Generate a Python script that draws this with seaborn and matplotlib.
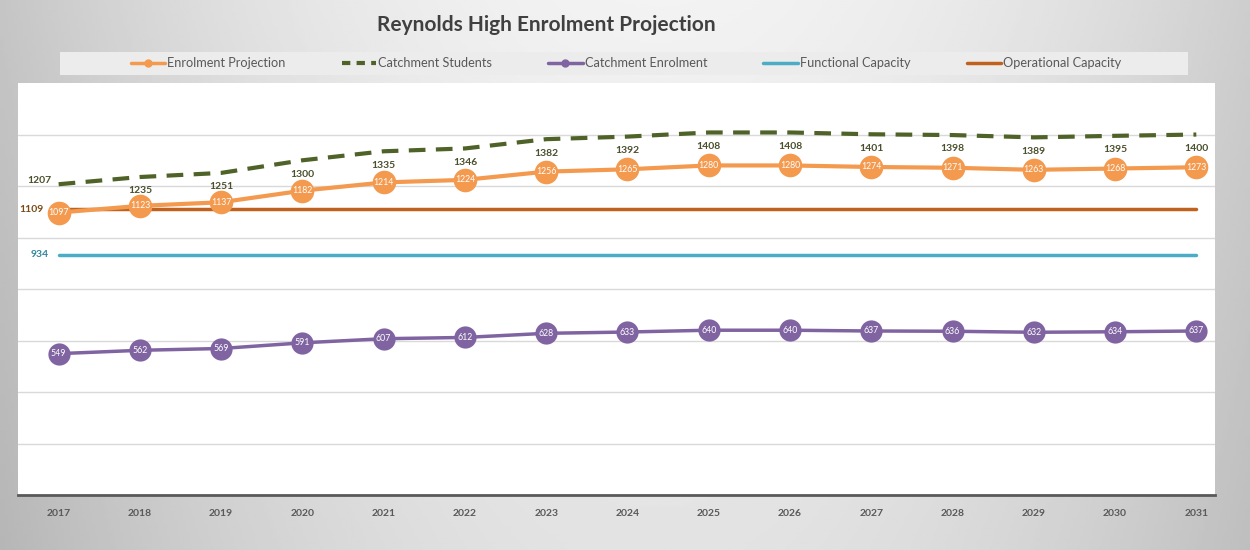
import numpy as np
import pandas as pd
import matplotlib
matplotlib.use("Agg")
import matplotlib.pyplot as plt
from matplotlib.lines import Line2D
from matplotlib.patches import Rectangle
import seaborn as sns

years = [2017, 2018, 2019, 2020, 2021, 2022, 2023, 2024, 2025, 2026, 2027, 2028, 2029, 2030, 2031]
enrolment_projection = [1097, 1123, 1137, 1182, 1214, 1224, 1256, 1265, 1280, 1280, 1274, 1271, 1263, 1268, 1273]
catchment_students = [1207, 1235, 1251, 1300, 1335, 1346, 1382, 1392, 1408, 1408, 1401, 1398, 1389, 1395, 1400]
catchment_enrolment = [549, 562, 569, 591, 607, 612, 628, 633, 640, 640, 637, 636, 632, 634, 637]
functional_capacity = [934] * len(years)
operational_capacity = [1109] * len(years)

df = pd.DataFrame({
    "year": years,
    "Enrolment Projection": enrolment_projection,
    "Catchment Students": catchment_students,
    "Catchment Enrolment": catchment_enrolment,
    "Functional Capacity": functional_capacity,
    "Operational Capacity": operational_capacity,
})

sns.set_theme(style="white")
plt.rcParams["font.family"] = ["Lato", "DejaVu Sans"]

c_orange = "#f39a4f"
c_olive = "#4f6228"
c_purple = "#8064a2"
c_teal = "#4bacc6"
c_brown = "#c0621e"

fig = plt.figure(figsize=(12.5, 5.5), dpi=100)

# gradient background
bg = fig.add_axes([0, 0, 1, 1], zorder=-10)
gx = np.linspace(-1, 1, 400)
gy = np.linspace(0, 1, 200)
X, Y = np.meshgrid(gx, gy)
G = 0.95 - 0.16 * (X - 0.05) ** 2 - 0.06 * Y
bg.imshow(G, cmap="gray", vmin=0, vmax=1, aspect="auto", extent=[0, 1, 0, 1])
bg.axis("off")

# legend strip
fig.patches.append(Rectangle((0.048, 0.8636), 0.9024, 0.0418, transform=fig.transFigure,
                             facecolor="#ececec", edgecolor="none", zorder=-5))

ax = fig.add_axes([0.0144, 0.1, 0.9576, 0.749])
ax.set_facecolor("white")

sns.lineplot(data=df, x="year", y="Operational Capacity", ax=ax, color=c_brown, lw=2.5, zorder=2)
sns.lineplot(data=df, x="year", y="Functional Capacity", ax=ax, color=c_teal, lw=2.5, zorder=2)
sns.lineplot(data=df, x="year", y="Catchment Students", ax=ax, color=c_olive, lw=3, zorder=2,
             dashes=False, linestyle=(0, (4, 2.5)))
sns.lineplot(data=df, x="year", y="Enrolment Projection", ax=ax, color=c_orange, lw=3,
             marker="o", markersize=17, markeredgewidth=0, zorder=3)
sns.lineplot(data=df, x="year", y="Catchment Enrolment", ax=ax, color=c_purple, lw=2.5,
             marker="o", markersize=16, markeredgewidth=0, zorder=3)

for x, v in zip(years, enrolment_projection):
    ax.text(x, v, str(v), ha="center", va="center", color="white", fontsize=6.3, zorder=4)
for x, v in zip(years, catchment_enrolment):
    ax.text(x, v, str(v), ha="center", va="center", color="white", fontsize=6.3, zorder=4)
for i, (x, v) in enumerate(zip(years, catchment_students)):
    if i == 0:
        ax.annotate(str(v), (x, v), xytext=(-5, 3), textcoords="offset points",
                    ha="right", va="center", fontsize=7.5, fontweight="bold", color="#4a4f2c")
    else:
        ax.annotate(str(v), (x, v), xytext=(0, -10), textcoords="offset points",
                    ha="center", va="center", fontsize=7.5, fontweight="bold", color="#4a4f2c")
ax.annotate(str(operational_capacity[0]), (years[0], operational_capacity[0]), xytext=(-11, 0),
            textcoords="offset points", ha="right", va="center", fontsize=7.5,
            fontweight="bold", color="#7a4a16")
ax.annotate(str(functional_capacity[0]), (years[0], functional_capacity[0]), xytext=(-7, 0),
            textcoords="offset points", ha="right", va="center", fontsize=7.5,
            fontweight="bold", color="#31859c")

ax.set_xlim(2016.5, 2031.23)
ax.set_ylim(0, 1600)
ax.set_xticks(years)
ax.set_xticklabels([str(y) for y in years], fontsize=7.5, fontweight="bold", color="#595959")
ax.set_yticks([200, 400, 600, 800, 1000, 1200, 1400])
ax.set_yticklabels([])
ax.tick_params(axis="both", length=0)
ax.tick_params(axis="x", pad=10)
ax.yaxis.grid(True, color="#d9d9d9", lw=1)
ax.set_xlabel("")
ax.set_ylabel("")
for s in ["top", "left", "right"]:
    ax.spines[s].set_visible(False)
ax.spines["bottom"].set_color("#595959")
ax.spines["bottom"].set_linewidth(2)

handles = [
    Line2D([], [], color=c_orange, lw=2.5, marker="o", markersize=5),
    Line2D([], [], color=c_olive, lw=3, linestyle=(0, (2, 1.5))),
    Line2D([], [], color=c_purple, lw=2.5, marker="o", markersize=5),
    Line2D([], [], color=c_teal, lw=2.5),
    Line2D([], [], color=c_brown, lw=2.5),
]
labels = ["Enrolment Projection", "Catchment Students", "Catchment Enrolment",
          "Functional Capacity", "Operational Capacity"]
fig.legend(handles, labels, loc="center", bbox_to_anchor=(0.5008, 0.8855), ncol=5,
           frameon=False, fontsize=9.2, handlelength=2.7, handletextpad=0.15,
           columnspacing=4.4, labelcolor="#595959")

fig.text(0.437, 0.955, "Reynolds High Enrolment Projection", ha="center", va="center",
         fontsize=15, fontweight="bold", color="#404040")

fig.savefig("out.png", dpi=100)
